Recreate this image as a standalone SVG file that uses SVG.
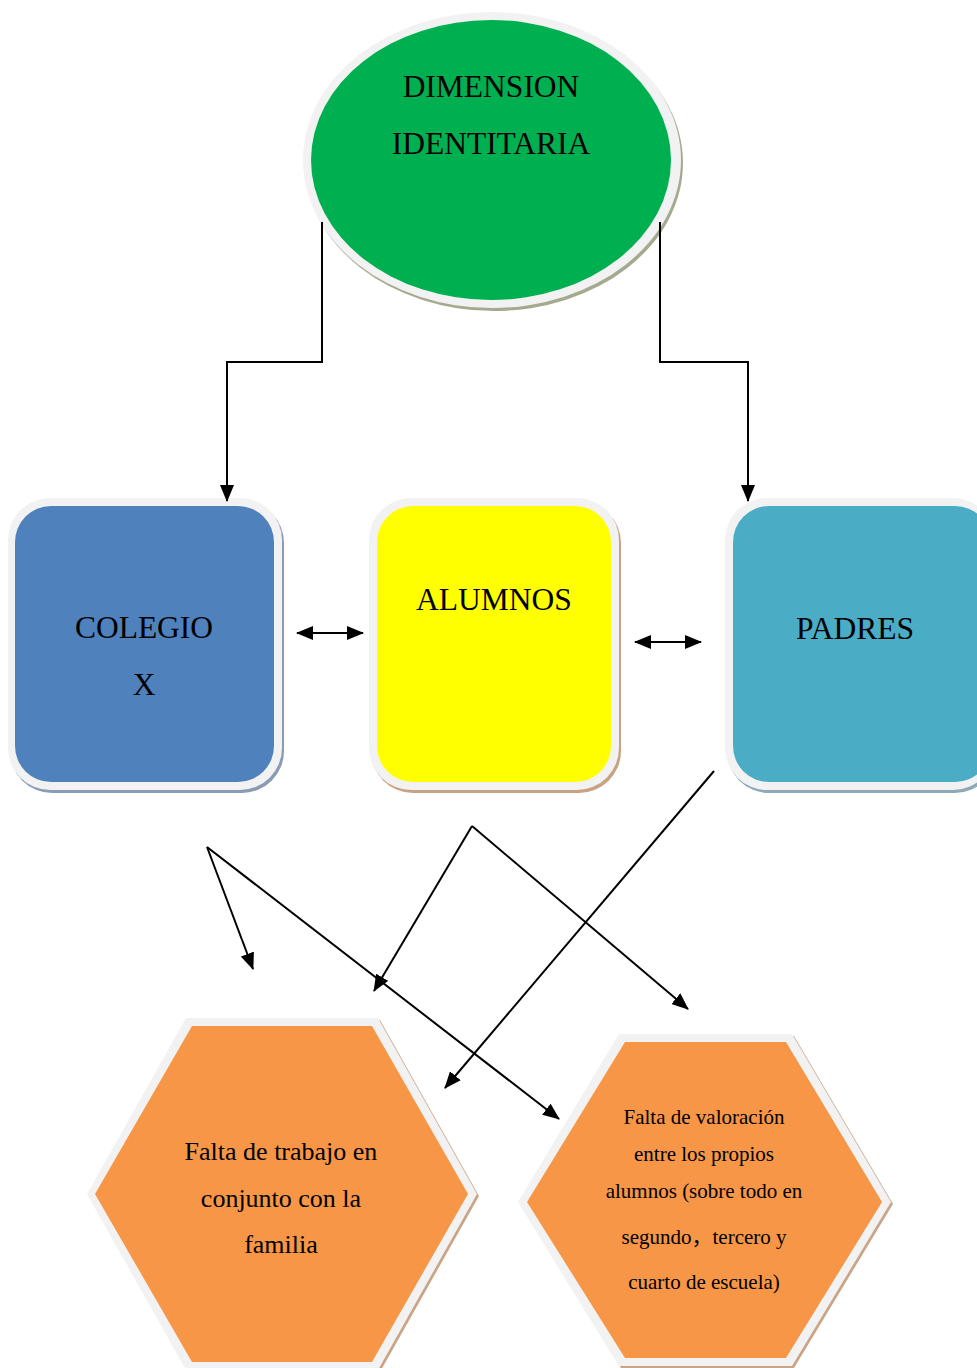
<svg xmlns="http://www.w3.org/2000/svg" width="977" height="1368" viewBox="0 0 977 1368">
<defs>
<marker id="ah" markerUnits="userSpaceOnUse" markerWidth="17" markerHeight="14" refX="16" refY="7" orient="auto-start-reverse" viewBox="0 0 17 14">
<path d="M0,0 L17,7 L0,14 z" fill="#000"/>
</marker>
<style>
.t{font-family:"Liberation Serif","Times New Roman",serif;fill:#000;text-anchor:middle}
.big{font-size:31.5px}
.mid{font-size:26px}
.sm{font-size:21px}
.ring{fill:#f2f2f2}
.c{fill:none;stroke:#000;stroke-width:2}
</style>
</defs>
<rect width="977" height="1368" fill="#fff"/>

<g id="dimension">
<ellipse cx="494" cy="163" rx="189" ry="148" fill="#a4aa90"/>
<ellipse cx="492" cy="160" rx="189" ry="148" class="ring"/>
<ellipse cx="491" cy="160" rx="180" ry="140" fill="#00b050"/>
<text class="t big" x="491" y="97">DIMENSION</text>
<text class="t big" x="491" y="154">IDENTITARIA</text>
</g>

<g id="colegio">
<rect x="10" y="501" width="274" height="292" rx="42" fill="#8a9bb5"/>
<rect x="8" y="498" width="274" height="292" rx="42" class="ring"/>
<rect x="15" y="506" width="259" height="276" rx="36" fill="#4f81bd"/>
<text class="t big" x="144" y="638">COLEGIO</text>
<text class="t big" x="144" y="695">X</text>
</g>

<g id="alumnos">
<rect x="371" y="501" width="250" height="292" rx="42" fill="#c9a283"/>
<rect x="369" y="498" width="250" height="292" rx="42" class="ring"/>
<rect x="377" y="506" width="234" height="276" rx="36" fill="#ffff00"/>
<text class="t big" x="494" y="610">ALUMNOS</text>
</g>

<g id="padres">
<rect x="727" y="501" width="270" height="292" rx="42" fill="#8eaab8"/>
<rect x="725" y="498" width="270" height="292" rx="42" class="ring"/>
<rect x="733" y="506" width="258" height="276" rx="36" fill="#4bacc6"/>
<text class="t big" x="855" y="639">PADRES</text>
</g>

<g id="hex-familia">
<polygon points="188,1020 380,1020 479,1196 380,1372 188,1372 89,1196" fill="#caa486"/>
<polygon points="186,1018 378,1018 477,1194 378,1370 186,1370 87,1194" class="ring"/>
<polygon points="192,1026 372,1026 468,1194 372,1362 192,1362 95,1194" fill="#f79646"/>
<text class="t mid" x="281" y="1160">Falta de trabajo en</text>
<text class="t mid" x="281" y="1207">conjunto con la</text>
<text class="t mid" x="281" y="1253">familia</text>
</g>

<g id="hex-valoracion">
<polygon points="621,1036 794,1036 893,1204 794,1368 621,1368 520,1204" fill="#caa486"/>
<polygon points="619,1034 792,1034 891,1202 792,1366 619,1366 518,1202" class="ring"/>
<polygon points="625,1042 786,1042 882,1202 786,1358 625,1358 527,1202" fill="#f79646"/>
<text class="t sm" x="704" y="1124">Falta de valoración</text>
<text class="t sm" x="704" y="1161">entre los propios</text>
<text class="t sm" x="704" y="1198">alumnos (sobre todo en</text>
<text class="t sm" x="704" y="1244" style="font-family:'Liberation Serif','Noto Sans CJK SC',serif">segundo，tercero y</text>
<text class="t sm" x="704" y="1289">cuarto de escuela)</text>
</g>

<g id="connectors">
<polyline class="c" points="322,222 322,362 227,362 227,501" marker-end="url(#ah)"/>
<polyline class="c" points="660,222 660,362 748,362 748,501" marker-end="url(#ah)"/>
<line class="c" x1="297" y1="633" x2="363" y2="633" marker-start="url(#ah)" marker-end="url(#ah)"/>
<line class="c" x1="635" y1="642" x2="701" y2="642" marker-start="url(#ah)" marker-end="url(#ah)"/>
<line class="c" x1="207" y1="847" x2="253" y2="969" marker-end="url(#ah)"/>
<line class="c" x1="207" y1="847" x2="559" y2="1119" marker-end="url(#ah)"/>
<line class="c" x1="472" y1="826" x2="374" y2="991" marker-end="url(#ah)"/>
<line class="c" x1="472" y1="826" x2="688" y2="1009" marker-end="url(#ah)"/>
<line class="c" x1="714" y1="771" x2="445" y2="1088" marker-end="url(#ah)"/>
</g>
</svg>
